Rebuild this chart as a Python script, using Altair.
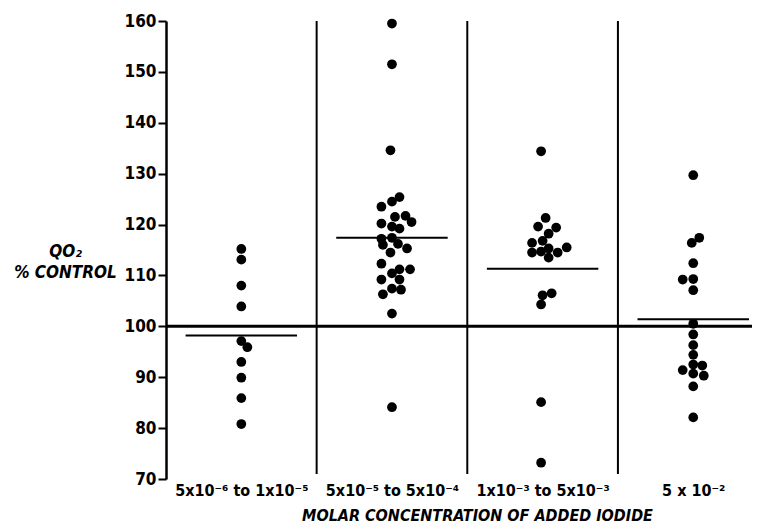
import json
import altair as alt
import pandas as pd

# ---- data ----
groups = ["5x10⁻⁶ to  1x10⁻⁵", "5x10⁻⁵ to  5x10⁻⁴", "1x10⁻³ to  5x10⁻³", "5 x 10⁻²"]

g1_values = [115.2, 113.1, 108.0, 103.9, 97.1, 95.9, 93.0, 89.9, 85.9, 80.8]
g1_jitter = [0.0, 0.0, 0.0, 0.0, 0.0, 0.04, 0.0, 0.0, 0.0, 0.0]

g2_values = [159.5, 151.5, 134.6, 125.4, 124.5, 123.5, 121.5, 121.7, 120.5, 120.2,
             119.6, 119.2, 117.2, 117.4, 116.2, 115.3, 116.0, 114.5, 112.3, 111.2,
             111.2, 110.4, 109.2, 109.2, 107.4, 107.2, 106.3, 102.5, 84.1]
g2_jitter = [0.0, 0.0, -0.01, 0.05, 0.0, -0.07, 0.02, 0.09, 0.13, -0.07,
             0.0, 0.05, -0.07, 0.0, 0.04, 0.1, -0.06, -0.01, -0.07, 0.05,
             0.12, 0.0, -0.07, 0.05, 0.0, 0.06, -0.06, 0.0, 0.0]

g3_values = [134.4, 121.3, 119.6, 119.4, 118.2, 116.4, 116.8, 114.5, 114.7, 115.3,
             113.5, 114.5, 115.5, 106.5, 106.1, 104.3, 85.1, 73.2]
g3_jitter = [-0.01, 0.02, -0.03, 0.09, 0.04, -0.07, 0.0, -0.07, -0.01, 0.04,
             0.04, 0.1, 0.16, 0.06, 0.0, -0.01, -0.01, -0.01]

g4_values = [129.7, 117.4, 116.4, 112.4, 109.2, 109.3, 107.1, 100.5, 98.4, 96.3,
             94.4, 92.5, 91.4, 90.7, 92.3, 90.3, 88.2, 82.1]
g4_jitter = [0.0, 0.04, -0.01, 0.0, -0.07, 0.0, 0.0, 0.0, 0.0, 0.0,
             0.0, 0.0, -0.07, 0.0, 0.06, 0.07, 0.0, 0.0]

means = [98.2, 117.4, 111.3, 101.4]
separators = [1, 2, 3]
control_level = 100
y_ticks = [70, 80, 90, 100, 110, 120, 130, 140, 150, 160]

x_title = "MOLAR CONCENTRATION OF ADDED IODIDE"
y_title = ["QO₂", "% CONTROL"]

# ---- build tables ----
rows = []
for gi, (vals, jit) in enumerate([(g1_values, g1_jitter), (g2_values, g2_jitter),
                                  (g3_values, g3_jitter), (g4_values, g4_jitter)]):
    for v, j in zip(vals, jit):
        rows.append({"x": gi + 0.5 + j, "y": v})
pts = pd.DataFrame(rows)

mean_df = pd.DataFrame({"x": [i + 0.5 - 0.37 for i in range(4)],
                        "x2": [i + 0.5 + 0.37 for i in range(4)],
                        "y": means})
sep_df = pd.DataFrame({"x": separators, "y": [160] * 3, "y2": [71] * 3})
XMAX = 3.89
h_df = pd.DataFrame({"x": [0], "x2": [XMAX], "y": [control_level]})

FONT = "DejaVu Sans Condensed"
xs = alt.Scale(domain=[0, XMAX], nice=False, zero=False)
ys = alt.Scale(domain=[70, 160], nice=False, zero=False)

label_expr = json.dumps(groups) + "[floor(datum.value)]"

x_axis = alt.Axis(
    values=[0.5, 1.5, 2.5, 3.5], labelExpr=label_expr, domain=False, ticks=False,
    grid=False, labelFont=FONT, labelFontSize=16, labelFontWeight="bold",
    labelColor="black", labelPadding=3, labelFlush=False,
    title=x_title, titleFont=FONT, titleFontSize=16, titleFontWeight="bold",
    titleFontStyle="italic", titleColor="black", titleX=311, titleY=36,
    titleAlign="center", titleBaseline="middle")
y_axis = alt.Axis(
    values=y_ticks, grid=False, domainColor="black", domainWidth=2.5,
    tickColor="black", tickWidth=2, tickSize=8, labelFont=FONT, labelFontSize=17,
    labelFontWeight="bold", labelColor="black", labelPadding=2,
    title=y_title, titleAngle=0, titleFont=FONT, titleFontSize=17,
    titleFontWeight="bold", titleFontStyle="italic", titleColor="black",
    titleAlign="center", titleBaseline="middle", titleX=-101, titleY=230,
    titleLineHeight=21)

points = alt.Chart(pts).mark_circle(size=95, color="black", opacity=1).encode(
    x=alt.X("x:Q", scale=xs, axis=x_axis),
    y=alt.Y("y:Q", scale=ys, axis=y_axis),
)

seps = alt.Chart(sep_df).mark_rule(color="black", strokeWidth=2).encode(
    x=alt.X("x:Q", scale=xs, axis=x_axis),
    y=alt.Y("y:Q", scale=ys, axis=y_axis), y2="y2:Q")

hline = alt.Chart(h_df).mark_rule(color="black", strokeWidth=3).encode(
    x=alt.X("x:Q", scale=xs, axis=x_axis), x2="x2:Q",
    y=alt.Y("y:Q", scale=ys, axis=y_axis))

mlines = alt.Chart(mean_df).mark_rule(color="black", strokeWidth=2).encode(
    x=alt.X("x:Q", scale=xs, axis=x_axis), x2="x2:Q",
    y=alt.Y("y:Q", scale=ys, axis=y_axis))

chart = alt.layer(seps, hline, mlines, points).properties(
    width=586, height=458,
    autosize=alt.AutoSizeParams(type="none"),
    padding={"left": 158, "top": 13, "right": 0, "bottom": 44},
    background="white",
).configure_view(stroke=None)

chart.save("out.html", embed_options={"renderer": "svg", "actions": False})
